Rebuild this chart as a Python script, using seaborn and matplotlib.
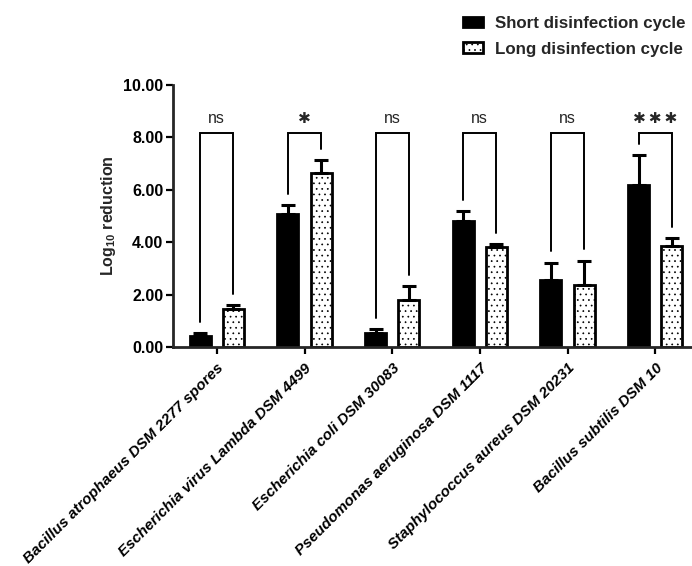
import matplotlib
matplotlib.use("Agg")
import matplotlib.pyplot as plt
import seaborn as sns
import pandas as pd
import numpy as np
from matplotlib.patches import Patch

# ---- data ----
categories = [
    "Bacillus atrophaeus DSM 2277 spores",
    "Escherichia virus Lambda DSM 4499",
    "Escherichia coli DSM 30083",
    "Pseudomonas aeruginosa DSM 1117",
    "Staphylococcus aureus DSM 20231",
    "Bacillus subtilis DSM 10",
]
short_mean = [0.42, 5.06, 0.53, 4.80, 2.54, 6.17]
short_err = [0.11, 0.35, 0.16, 0.38, 0.68, 1.15]
long_mean = [1.46, 6.63, 1.81, 3.82, 2.38, 3.84]
long_err = [0.13, 0.49, 0.52, 0.10, 0.92, 0.32]
sig_labels = ["ns", "\u2731", "ns", "ns", "ns", "\u2731\u2009\u2731\u2009\u2731"]
series_names = ["Short disinfection cycle", "Long disinfection cycle"]

df = pd.DataFrame({
    "category": categories * 2,
    "value": short_mean + long_mean,
    "cycle": [series_names[0]] * 6 + [series_names[1]] * 6,
})

sns.set_theme(style="ticks")
plt.rcParams["font.family"] = ["Liberation Sans", "DejaVu Sans"]
plt.rcParams["mathtext.fontset"] = "custom"
plt.rcParams["mathtext.bf"] = "Liberation Sans:bold"
plt.rcParams["mathtext.rm"] = "Liberation Sans"
plt.rcParams["hatch.linewidth"] = 0.5

fig = plt.figure(figsize=(6.92, 5.66), dpi=100)
ax = fig.add_axes([173 / 692, 1 - 347 / 566, (699 - 173) / 692, (347 - 85) / 566])

sns.barplot(data=df, x="category", y="value", hue="cycle", hue_order=series_names,
            palette=["black", "white"], width=0.76, gap=0.37, errorbar=None,
            edgecolor="black", linewidth=2, ax=ax, legend=False)

centers = []
for si, cont in enumerate(ax.containers):
    xs = []
    for p in cont.patches:
        xs.append(p.get_x() + p.get_width() / 2)
        if si == 1:
            p.set_hatch("...")
            if hasattr(p, "set_hatchcolor"):
                p.set_hatchcolor("#777777")
    centers.append(xs)

means = [short_mean, long_mean]
errs = [short_err, long_err]
for si in range(2):
    ax.errorbar(centers[si], means[si], yerr=[np.zeros(6), errs[si]], fmt="none",
                ecolor="black", elinewidth=2.2, capsize=5, capthick=2.2, zorder=1)

# significance brackets
bracket_top = 8.17
gap = 0.43
for i in range(6):
    x0, x1 = centers[0][i], centers[1][i]
    y0 = short_mean[i] + short_err[i] + gap
    y1 = long_mean[i] + long_err[i] + gap
    ax.plot([x0, x0, x1, x1], [y0, bracket_top, bracket_top, y1], color="black",
            lw=1.4, solid_joinstyle="miter", clip_on=False)
    lab = sig_labels[i]
    if lab == "ns":
        ax.text((x0 + x1) / 2, 8.42, lab, ha="center", va="bottom", fontsize=11.5)
    else:
        ax.text((x0 + x1) / 2, 8.45, lab, ha="center", va="bottom", fontsize=11,
                fontweight="bold", family=["DejaVu Sans"])

ax.set_xlim(-0.5, 5.5)
ax.set_ylim(0, 10)
ax.set_yticks([0, 2, 4, 6, 8, 10])
ax.set_yticklabels([f"{v:.2f}" for v in [0, 2, 4, 6, 8, 10]], fontweight="bold", fontsize=11.5)
ax.set_xticks(range(6))
ax.set_xticklabels(categories, rotation=45, ha="right", rotation_mode="anchor",
                   fontweight="bold", fontstyle="italic", fontsize=11)
ax.set_xlabel("")
ax.set_ylabel(r"Log$_{\mathbf{10}}$ reduction", fontweight="bold", fontsize=11.5, labelpad=4)
sns.despine(ax=ax)
for s in ["left", "bottom"]:
    ax.spines[s].set_linewidth(2)
ax.tick_params(axis="both", width=1.6, length=5, colors="black", pad=2)
ax.tick_params(axis="x", pad=5)

handles = [Patch(facecolor="black", edgecolor="black", linewidth=2),
           Patch(facecolor="white", edgecolor="black", linewidth=2, hatch="...")]
fig.legend(handles, series_names, loc="upper left", bbox_to_anchor=(463 / 692, 1 - 16 / 566),
           frameon=False, prop={"weight": "bold", "size": 12.2}, handlelength=1.2,
           handleheight=0.55, handletextpad=0.7, labelspacing=0.62, borderpad=0,
           borderaxespad=0)

fig.savefig("out.png", dpi=100)
